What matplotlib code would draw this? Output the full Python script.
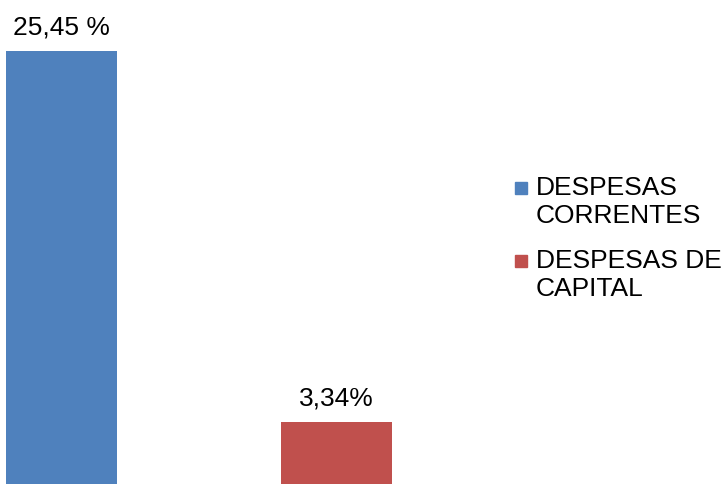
import matplotlib.pyplot as plt
from matplotlib.patches import Rectangle

categorias = ["DESPESAS\nCORRENTES", "DESPESAS DE\nCAPITAL"]
valores = [25.45, 3.34]
rotulos = ["25,45 %", "3,34%"]
cores = ["#4F81BD", "#C0504D"]

plt.rcParams['font.family'] = ['Liberation Sans', 'DejaVu Sans']

fig = plt.figure(figsize=(7.25, 4.84), dpi=100)
ax = fig.add_axes([0, 0, 1, 1])

base = -0.355  # eixo comeca um pouco abaixo de zero (imagem recortada)
pos = range(len(valores))
barras = ax.bar(pos, [v - base for v in valores], bottom=base, width=0.4036, color=cores)

# valores acima das barras
for p, v, txt in zip(pos, valores, rotulos):
    ax.annotate(txt, (p, v), xytext=(0, 12.2), textcoords='offset points',
                ha='center', va='baseline', fontsize=19)

ax.set_xlim(-0.2236, 2.4127)
ax.set_ylim(base, 28.49)
ax.axis('off')

# legenda feita a mao (quadrado alinhado com a primeira linha)
leg_y = [188, 261]
for cat, cor, y in zip(categorias, cores, leg_y):
    fig.patches.append(Rectangle((515 / 725, 1 - (y + 6) / 484), 12 / 725, 12 / 484,
                                 transform=fig.transFigure, color=cor))
    fig.text(536 / 725, 1 - (y - 12) / 484, cat, fontsize=19, va='top', ha='left',
             linespacing=1.2)

fig.savefig("out.png", dpi=100)
